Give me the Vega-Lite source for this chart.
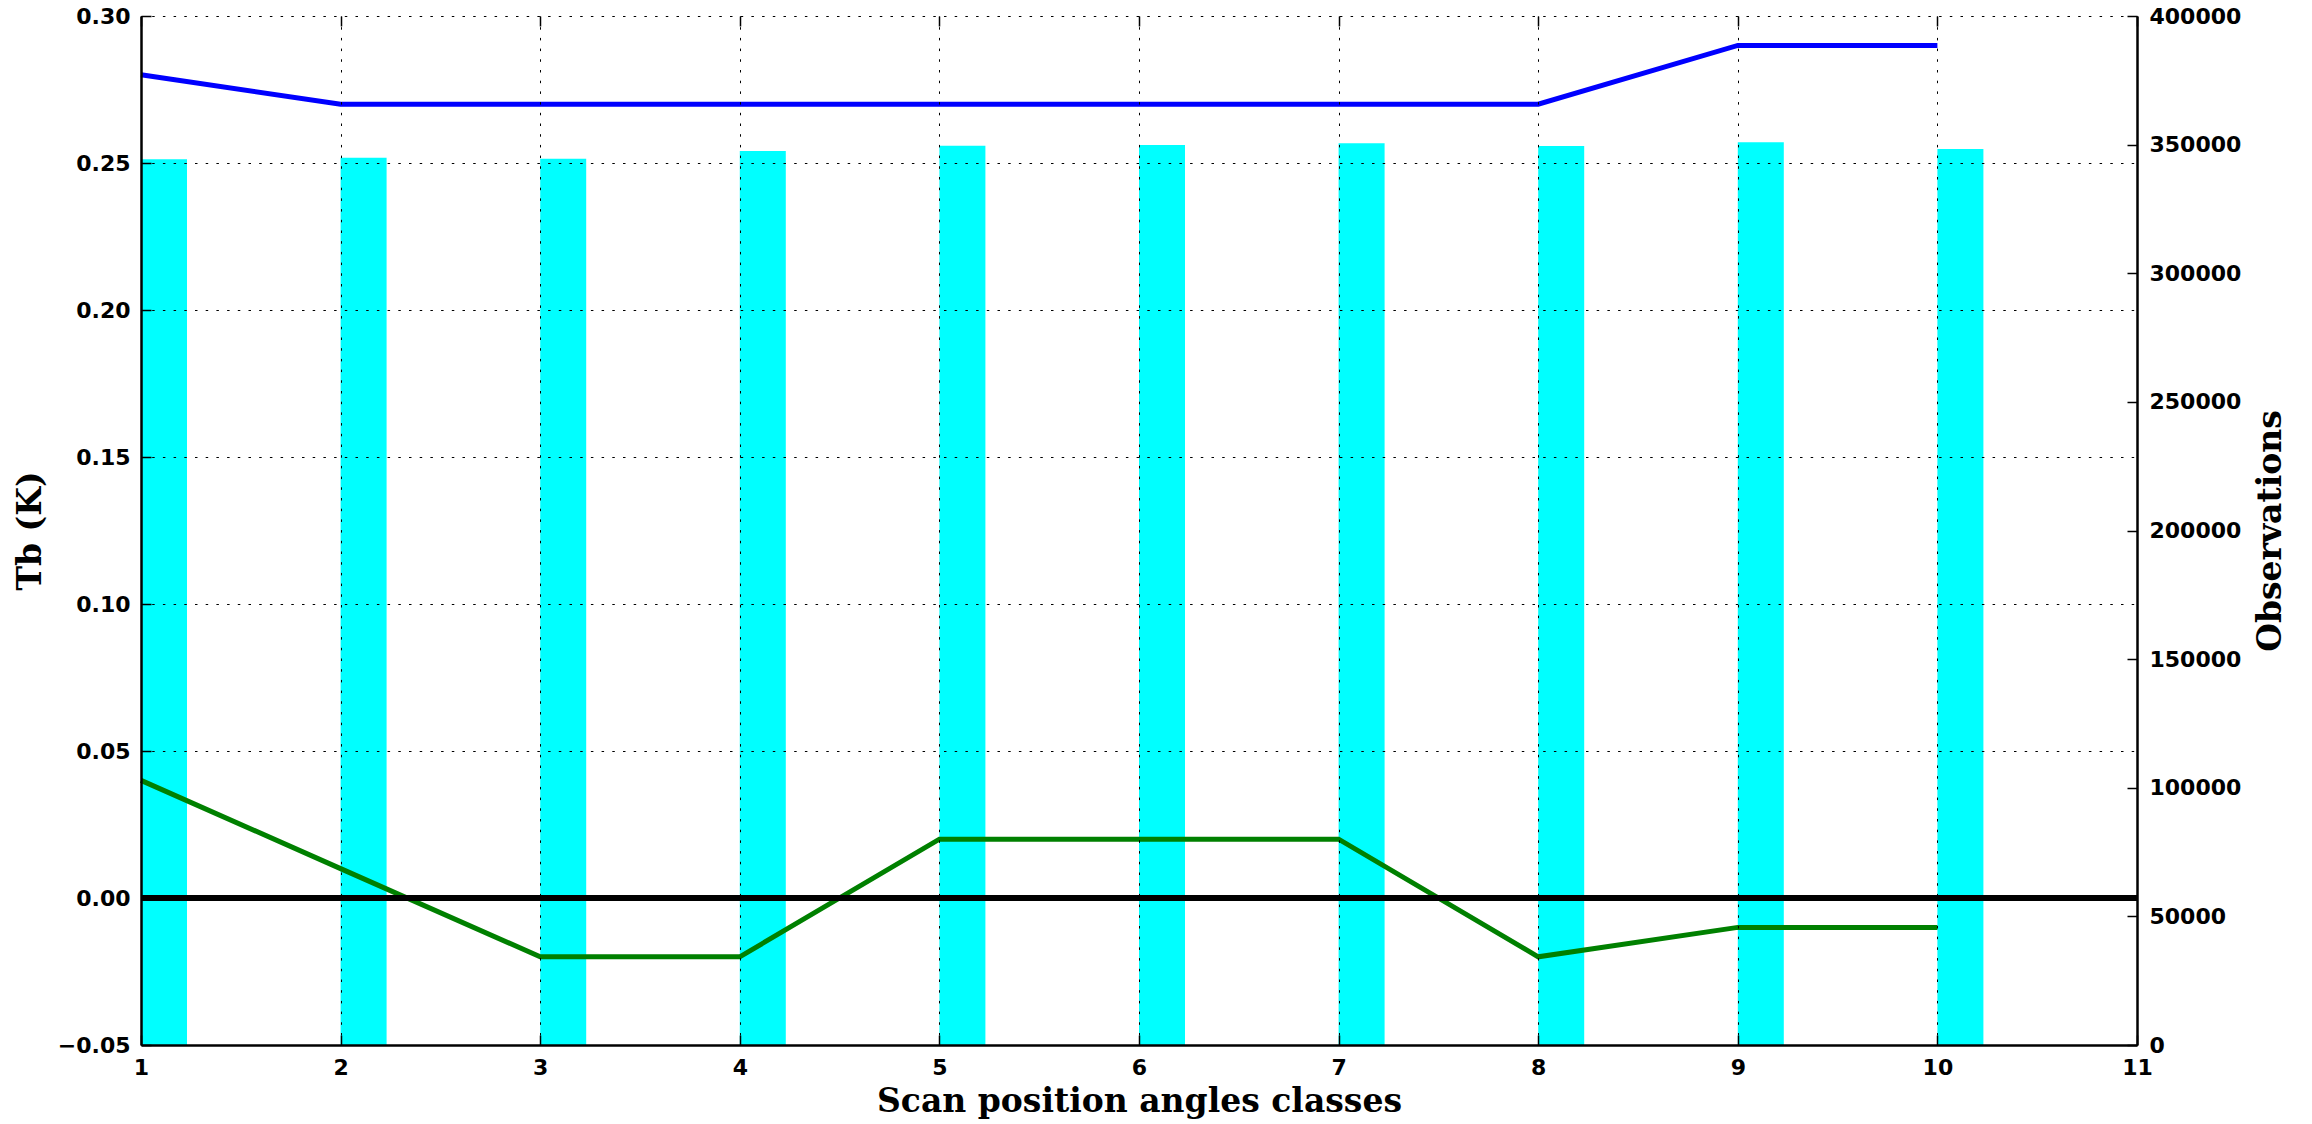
{
  "$schema": "https://vega.github.io/schema/vega-lite/v6.json",
  "width": 1996,
  "height": 1029,
  "autosize": {"type": "none"},
  "padding": {"left": 141, "top": 16, "right": 175, "bottom": 79},
  "background": "white",
  "config": {
    "view": {"stroke": null},
    "axis": {
      "domainColor": "black",
      "domainWidth": 2.5,
      "tickColor": "black",
      "tickWidth": 1.5,
      "tickSize": -10,
      "labelFlush": false,
      "labelOverlap": false,
      "labelFont": "DejaVu Sans",
      "labelFontWeight": "bold",
      "labelFontSize": 22,
      "labelColor": "black",
      "titleFont": "DejaVu Serif",
      "titleFontWeight": "bold",
      "titleFontSize": 33,
      "titleColor": "black",
      "gridColor": "black",
      "gridDash": [2.5, 8.2],
      "gridWidth": 1,
      "gridOpacity": 1
    }
  },
  "datasets": {
    "obs": [
      {"cls": 1, "obs": 344300},
      {"cls": 2, "obs": 344900},
      {"cls": 3, "obs": 344530},
      {"cls": 4, "obs": 347520},
      {"cls": 5, "obs": 349580},
      {"cls": 6, "obs": 349850},
      {"cls": 7, "obs": 350510},
      {"cls": 8, "obs": 349470},
      {"cls": 9, "obs": 350910},
      {"cls": 10, "obs": 348300}
    ],
    "tb": [
      {"cls": 1, "tb": 0.28, "series": "blue"},
      {"cls": 2, "tb": 0.27, "series": "blue"},
      {"cls": 3, "tb": 0.27, "series": "blue"},
      {"cls": 4, "tb": 0.27, "series": "blue"},
      {"cls": 5, "tb": 0.27, "series": "blue"},
      {"cls": 6, "tb": 0.27, "series": "blue"},
      {"cls": 7, "tb": 0.27, "series": "blue"},
      {"cls": 8, "tb": 0.27, "series": "blue"},
      {"cls": 9, "tb": 0.29, "series": "blue"},
      {"cls": 10, "tb": 0.29, "series": "blue"},
      {"cls": 1, "tb": 0.04, "series": "green"},
      {"cls": 2, "tb": 0.01, "series": "green"},
      {"cls": 3, "tb": -0.02, "series": "green"},
      {"cls": 4, "tb": -0.02, "series": "green"},
      {"cls": 5, "tb": 0.02, "series": "green"},
      {"cls": 6, "tb": 0.02, "series": "green"},
      {"cls": 7, "tb": 0.02, "series": "green"},
      {"cls": 8, "tb": -0.02, "series": "green"},
      {"cls": 9, "tb": -0.01, "series": "green"},
      {"cls": 10, "tb": -0.01, "series": "green"}
    ]
  },
  "layer": [
    {
      "data": {"name": "obs"},
      "mark": {"type": "bar", "width": 46, "xOffset": 23, "color": "#00ffff"},
      "encoding": {
        "x": {
          "field": "cls",
          "type": "quantitative",
          "scale": {"domain": [1, 11], "nice": false, "zero": false, "padding": 0},
          "axis": {
            "orient": "bottom",
            "values": [1, 2, 3, 4, 5, 6, 7, 8, 9, 10, 11],
            "format": "d",
            "grid": true,
            "zindex": 1,
            "labelPadding": 22,
            "title": "Scan position angles classes",
            "titleBaseline": "alphabetic",
            "titleY": 66,
            "titleX": 998
          }
        },
        "y": {
          "field": "obs",
          "type": "quantitative",
          "scale": {"domain": [0, 400000], "nice": false, "padding": 0},
          "axis": {
            "orient": "right",
            "values": [0, 50000, 100000, 150000, 200000, 250000, 300000, 350000, 400000],
            "format": "d",
            "grid": false,
            "zindex": 1,
            "labelPadding": 22,
            "title": "Observations",
            "titleAngle": -90,
            "titleBaseline": "middle",
            "titleAlign": "center",
            "titleX": 133,
            "titleY": 514.5
          }
        }
      }
    },
    {
      "layer": [
        {
          "data": {"name": "tb"},
          "mark": {"type": "line", "strokeWidth": 5},
          "encoding": {
            "x": {
              "field": "cls",
              "type": "quantitative",
              "scale": {"domain": [1, 11], "nice": false, "zero": false, "padding": 0},
              "axis": {
                "orient": "top",
                "values": [1, 2, 3, 4, 5, 6, 7, 8, 9, 10, 11],
                "labels": false,
                "domain": false,
                "grid": false,
                "title": null,
                "zindex": 1
              }
            },
            "y": {
              "field": "tb",
              "type": "quantitative",
              "scale": {"domain": [-0.05, 0.3], "nice": false, "zero": false},
              "axis": {
                "orient": "left",
                "values": [-0.05, 0, 0.05, 0.1, 0.15, 0.2, 0.25, 0.3],
                "format": ".2f",
                "grid": true,
                "zindex": 1,
                "labelPadding": 21,
                "title": "Tb (K)",
                "titleAngle": -90,
                "titleBaseline": "middle",
                "titleAlign": "center",
                "titleX": -111,
                "titleY": 514.5
              }
            },
            "color": {
              "field": "series",
              "type": "nominal",
              "scale": {"domain": ["blue", "green"], "range": ["#0000ff", "#008000"]},
              "legend": null
            }
          }
        },
        {
          "data": {"values": [{}]},
          "mark": {"type": "rule", "color": "black", "strokeWidth": 6},
          "encoding": {"y": {"datum": 0}}
        }
      ]
    }
  ],
  "resolve": {"scale": {"y": "independent"}, "axis": {"x": "independent"}}
}
